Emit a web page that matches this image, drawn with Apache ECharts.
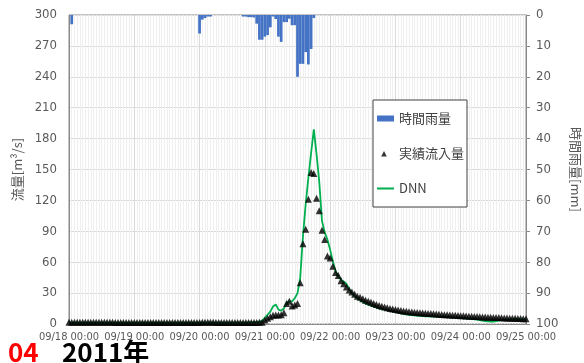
<!DOCTYPE html>
<html>
<head>
<meta charset="utf-8" />
<script src="https://cdn.jsdelivr.net/npm/echarts@6/dist/echarts.min.js"></script>
<style>
  html, body { margin: 0; padding: 0; background: #fff; }
  #chart { width: 584px; height: 363px; }
</style>
</head>
<body>
<div id="chart"></div>
<script>
// tick labels on the time axis, one per day (hourly data, 00:00 on each)
const dayLabels = ['09/18 00:00', '09/19 00:00', '09/20 00:00', '09/21 00:00',
                   '09/22 00:00', '09/23 00:00', '09/24 00:00', '09/25 00:00'];

// hourly rainfall, only hours with rain (hour index from 09/18 00:00)
const rainHours = [1, 48, 49, 50, 51, 52, 64, 65, 66, 67, 68, 69, 70, 71, 72, 73, 74, 75, 76,
                   77, 78, 79, 80, 81, 82, 83, 84, 85, 86, 87, 88, 89, 90];
const rainMm = [3, 6, 1.5, 1, 0.5, 0.5, 0.5, 0.5, 0.7, 0.7, 0.8, 2.8, 8, 8, 7, 6.5, 4, 0.5, 1.3,
                7, 8.7, 2.3, 2.3, 1.2, 3.3, 3.3, 20, 15.8, 15.8, 12, 16, 11, 1];

// observed inflow [m3/s], hourly, 09/18 00:00 .. 09/25 00:00
const observedFlow = [
  1.8, 1.8, 1.8, 1.7, 1.7, 1.7, 1.7, 1.7, 1.7, 1.6, 1.6, 1.6, 1.6, 1.6, 1.6, 1.6, 1.6, 1.5, 1.5, 1.5, 1.5, 1.5, 1.5, 1.5,
  1.5, 1.5, 1.5, 1.5, 1.5, 1.5, 1.4, 1.4, 1.4, 1.4, 1.4, 1.4, 1.4, 1.4, 1.4, 1.4, 1.4, 1.4, 1.4, 1.4, 1.4, 1.4, 1.4, 1.4,
  1.5, 1.6, 1.6, 1.6, 1.6, 1.6, 1.5, 1.5, 1.5, 1.5, 1.5, 1.5, 1.5, 1.5, 1.5, 1.5, 1.5, 1.5, 1.5, 1.5, 1.5, 1.5, 1.6, 1.7,
  4, 5.5, 7, 8.5, 8.7, 8.8, 9, 11, 20, 22, 17.5, 18.5, 20, 40, 78, 92, 121, 147, 146, 122, 110, 91, 82, 66,
  64, 56, 50, 47, 42, 39, 36, 33, 31, 29, 27, 26, 24.5, 23, 22, 21, 20, 19, 18, 17.2, 16.4, 15.7, 15.1, 14.5,
  14, 13.5, 13.1, 12.7, 12.3, 12, 11.7, 11.4, 11.1, 10.9, 10.7, 10.5, 10.3, 10.1, 9.9, 9.7, 9.5, 9.3, 9.1, 8.9, 8.7, 8.5, 8.4, 8.2,
  8.1, 7.9, 7.8, 7.6, 7.5, 7.3, 7.2, 7.0, 6.9, 6.7, 6.6, 6.5, 6.4, 6.3, 6.2, 6.0, 5.9, 5.8, 5.7, 5.6, 5.5, 5.4, 5.3, 5.2,
  5.2
];

// DNN prediction [m3/s], same hours
const dnnFlow = [
  1.4, 1.4, 1.4, 1.4, 1.4, 1.4, 1.4, 1.4, 1.4, 1.4, 1.4, 1.4, 1.3, 1.3, 1.3, 1.3, 1.3, 1.3, 1.3, 1.3, 1.3, 1.3, 1.3, 1.3,
  1.3, 1.3, 1.3, 1.3, 1.3, 1.3, 1.2, 1.2, 1.2, 1.2, 1.2, 1.2, 1.2, 1.2, 1.2, 1.2, 1.2, 1.2, 1.2, 1.2, 1.2, 1.2, 1.2, 1.2,
  1.2, 1.3, 1.4, 1.4, 1.4, 1.4, 1.3, 1.3, 1.3, 1.3, 1.3, 1.3, 1.3, 1.3, 1.3, 1.3, 1.4, 1.4, 1.5, 1.6, 1.8, 1.9, 2.2, 3,
  6, 9, 12, 17, 19, 14, 13, 15, 21, 22, 22, 25, 30, 45, 85, 116, 142, 166, 189, 165, 138, 100, 89, 82,
  72, 61, 51, 46, 43, 41, 39, 34, 30, 27, 25, 23, 21.5, 20, 18.8, 17.8, 16.9, 16, 15.2, 14.5, 13.9, 13.4, 12.8, 12.2,
  11.6, 11, 10.3, 9.7, 9.3, 8.9, 8.6, 8.3, 8, 7.8, 7.6, 7.5, 7.4, 7.3, 7.2, 7.1, 7, 6.9, 6.8, 6.7, 6.6, 6.5, 6.3, 6.1,
  5.9, 5.6, 5.4, 5.2, 4.9, 4.6, 4.2, 3.8, 3.3, 2.9, 2.5, 2.3, 2.4, 2.8, 3.3, 3.7, 4, 4.2, 4.4, 4.5, 4.6, 4.6, 4.5, 4.5,
  4.5
];

const hours = observedFlow.map((_, i) => i);
const rainData = rainHours.map((h, i) => [h, rainMm[i]]);

const numFont = '"DejaVu Sans Condensed", "Noto Sans", sans-serif';
const jpFont = '"Noto Sans CJK JP", sans-serif';
const frame = '#898989';
const labelColor = '#595959';

const chart = echarts.init(document.getElementById('chart'));
chart.setOption({
  animation: false,
  grid: {
    left: 69, right: 58, top: 15, bottom: 39,
    outerBoundsMode: 'none',
    show: true, borderColor: frame, borderWidth: 1
  },
  legend: {
    orient: 'vertical',
    left: 373,
    top: 100,
    padding: [12, 3, 12, 4],
    itemWidth: 17,
    itemHeight: 6,
    itemGap: 22,
    backgroundColor: '#fff',
    borderColor: '#404040',
    borderWidth: 1,
    textStyle: { fontSize: 13, color: '#404040', fontFamily: jpFont },
    data: [
      { name: '時間雨量', icon: 'rect' },
      { name: '実績流入量', icon: 'path://M0,0L0.01,0ZM17,6L16.99,6ZM4.2,6L7,0.6L9.8,6Z' },
      { name: 'DNN', icon: 'path://M0,0L0.01,0ZM17,6L16.99,6ZM0,2.1L17,2.1L17,3.9L0,3.9Z' }
    ]
  },
  xAxis: [
    {
      type: 'category',
      data: hours,
      boundaryGap: false,
      axisLine: { lineStyle: { color: frame } },
      axisTick: { show: false },
      axisLabel: {
        interval: (i) => i % 24 === 0,
        formatter: (v, i) => dayLabels[i / 24],
        fontSize: 11,
        color: labelColor,
        fontFamily: numFont,
        margin: 8,
        hideOverlap: false
      },
      splitLine: { show: true, interval: (i) => i % 24 === 0, lineStyle: { color: '#d9d9d9' } }
    },
    {
      // faint hourly grid
      type: 'category',
      data: hours,
      boundaryGap: false,
      position: 'bottom',
      axisLine: { show: false },
      axisTick: { show: false },
      axisLabel: { show: false },
      splitLine: { show: true, interval: (i) => i % 24 !== 0, lineStyle: { color: '#efefef' } }
    }
  ],
  yAxis: [
    {
      type: 'value',
      min: 0,
      max: 300,
      interval: 30,
      position: 'left',
      axisLine: { show: true, lineStyle: { color: frame } },
      axisTick: { show: false },
      axisLabel: { fontSize: 13, color: labelColor, fontFamily: numFont, margin: 12 },
      splitLine: { lineStyle: { color: '#d9d9d9' } },
      name: '流量[m³/s]',
      nameLocation: 'middle',
      nameGap: 33,
      nameRotate: 90,
      nameTextStyle: { fontSize: 13, color: labelColor, fontFamily: jpFont }
    },
    {
      type: 'value',
      min: 0,
      max: 100,
      interval: 10,
      inverse: true,
      position: 'right',
      axisLine: { show: true, lineStyle: { color: frame } },
      axisTick: { show: true, length: 4, lineStyle: { color: frame } },
      axisLabel: { fontSize: 13, color: labelColor, fontFamily: numFont, margin: 10 },
      splitLine: { show: false },
      name: '時間雨量[mm]',
      nameLocation: 'middle',
      nameGap: 42,
      nameRotate: -90,
      nameTextStyle: { fontSize: 13, color: labelColor, fontFamily: jpFont }
    }
  ],
  series: [
    {
      name: '時間雨量',
      type: 'bar',
      xAxisIndex: 0,
      yAxisIndex: 1,
      data: rainData,
      barCategoryGap: '0%',
      itemStyle: { color: '#4472c4' }
    },
    {
      name: '実績流入量',
      type: 'scatter',
      xAxisIndex: 0,
      yAxisIndex: 0,
      data: observedFlow,
      symbol: 'triangle',
      symbolSize: 7,
      itemStyle: { color: '#000' },
      z: 4
    },
    {
      name: 'DNN',
      type: 'line',
      xAxisIndex: 0,
      yAxisIndex: 0,
      data: dnnFlow,
      symbol: 'none',
      lineStyle: { color: '#00b050', width: 1.8 },
      itemStyle: { color: '#00b050' },
      z: 3
    }
  ],
  graphic: [
    { type: 'text', left: 8, top: 339, style: { text: '04', fill: '#ff0000', font: 'bold 26px "Noto Sans CJK JP", sans-serif' } },
    { type: 'text', left: 62, top: 339, style: { text: '2011年', fill: '#000', font: 'bold 26px "Noto Sans CJK JP", sans-serif' } }
  ]
});
</script>
</body>
</html>
